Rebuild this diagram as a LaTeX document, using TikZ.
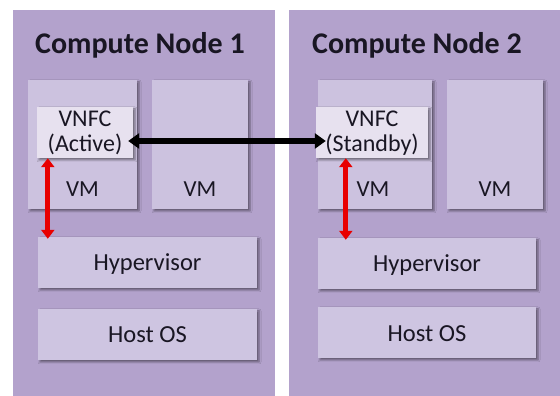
\documentclass[tikz,border=0pt]{standalone}
\usepackage{fontspec}
\setmainfont{Carlito}
\usetikzlibrary{shadows.blur,arrows.meta}

\definecolor{panelcol}{RGB}{179,162,204}
\definecolor{vmcol}{RGB}{204,194,223}
\definecolor{vnfccol}{RGB}{231,225,239}
\definecolor{layercol}{RGB}{206,197,225}
\definecolor{txtcol}{RGB}{25,22,35}
\definecolor{callred}{RGB}{232,0,0}

\tikzset{
  panel/.style={fill=panelcol, draw=none, anchor=south west, inner sep=0pt},
  layer/.style={fill=#1, draw=none, inner sep=0pt,
    blur shadow={shadow xshift=2pt, shadow yshift=-2pt, shadow blur radius=2pt, shadow opacity=45}},
  title/.style={font=\bfseries\fontsize{30}{34}\selectfont, text=txtcol, anchor=base west, inner sep=0pt},
  lbl/.style={font=\fontsize{24.5}{28}\selectfont, text=txtcol, inner sep=0pt, anchor=base},
  vmlbl/.style={font=\fontsize{23}{27}\selectfont, text=txtcol, inner sep=0pt, anchor=base},
  vlbl/.style={font=\fontsize{24}{25}\selectfont, text=txtcol, inner sep=0pt, anchor=base},
  link/.style={line width=5.5pt, black, {Triangle[length=11pt,width=15pt]}-{Triangle[length=11pt,width=15pt]}},
  call/.style={line width=5pt, callred, {Triangle[length=9pt,width=13pt]}-{Triangle[length=9pt,width=13pt]}}
}

\begin{document}
\begin{tikzpicture}[x=1pt,y=1pt]
  \fill[white] (0,0) rectangle (560,396);
  \useasboundingbox (0,0) rectangle (560,396);

  % compute node panels
  \node[panel, minimum width=262pt, minimum height=386pt] (p1) at (13,0) {};
  \node[panel, minimum width=271pt, minimum height=386pt] (p2) at (289,0) {};
  \node[title] (t1) at (35,342) {Compute Node 1};
  \node[title] (t2) at (312,342) {Compute Node 2};

  % node 1 stack
  \node[layer=vmcol, minimum width=109pt, minimum height=129pt] (a1) at (82.5,251.5) {};
  \node[layer=vmcol, minimum width=96pt, minimum height=129pt] (a2) at (200,251.5) {};
  \node[vmlbl] (a1l) at (82.5,199) {VM};
  \node[vmlbl] (a2l) at (200,199) {VM};
  \node[layer=vnfccol, minimum width=96pt, minimum height=51pt] (v1) at (85,263.5) {};
  \node[vlbl] (v1a) at (85,269) {VNFC};
  \node[vlbl] (v1b) at (85,244) {(Active)};
  \node[layer=layercol, minimum width=219pt, minimum height=51pt] (h1) at (147.5,133.5) {};
  \node[lbl] (h1l) at (147.5,125) {Hypervisor};
  \node[layer=layercol, minimum width=219pt, minimum height=51pt] (o1) at (147.5,61.5) {};
  \node[lbl] (o1l) at (147.5,53) {Host OS};

  % node 2 stack
  \node[layer=vmcol, minimum width=114pt, minimum height=129pt] (b1) at (375,251.5) {};
  \node[layer=vmcol, minimum width=96pt, minimum height=129pt] (b2) at (495,251.5) {};
  \node[vmlbl] (b1l) at (373,199) {VM};
  \node[vmlbl] (b2l) at (495,199) {VM};
  \node[layer=vnfccol, minimum width=112pt, minimum height=51pt] (v2) at (372,263.5) {};
  \node[vlbl] (v2a) at (372,269) {VNFC};
  \node[vlbl] (v2b) at (372,244) {(Standby)};
  \node[layer=layercol, minimum width=218pt, minimum height=51pt] (h2) at (427,132.5) {};
  \node[lbl] (h2l) at (427,124) {Hypervisor};
  \node[layer=layercol, minimum width=218pt, minimum height=51pt] (o2) at (427,63.5) {};
  \node[lbl] (o2l) at (427,54) {Host OS};

  % state replication between the VNFC pair
  \draw[link] ([xshift=-5pt,yshift=-8.5pt]v1.east) -- ([xshift=10pt,yshift=-8.5pt]v2.west);

  % VNFC <-> hypervisor
  \draw[call] ([xshift=11pt]v1.south west) -- ([xshift=10pt,yshift=-2pt]h1.north west);
  \draw[call] ([xshift=30pt]v2.south west) -- ([xshift=28pt,yshift=-2pt]h2.north west);
\end{tikzpicture}
\end{document}
